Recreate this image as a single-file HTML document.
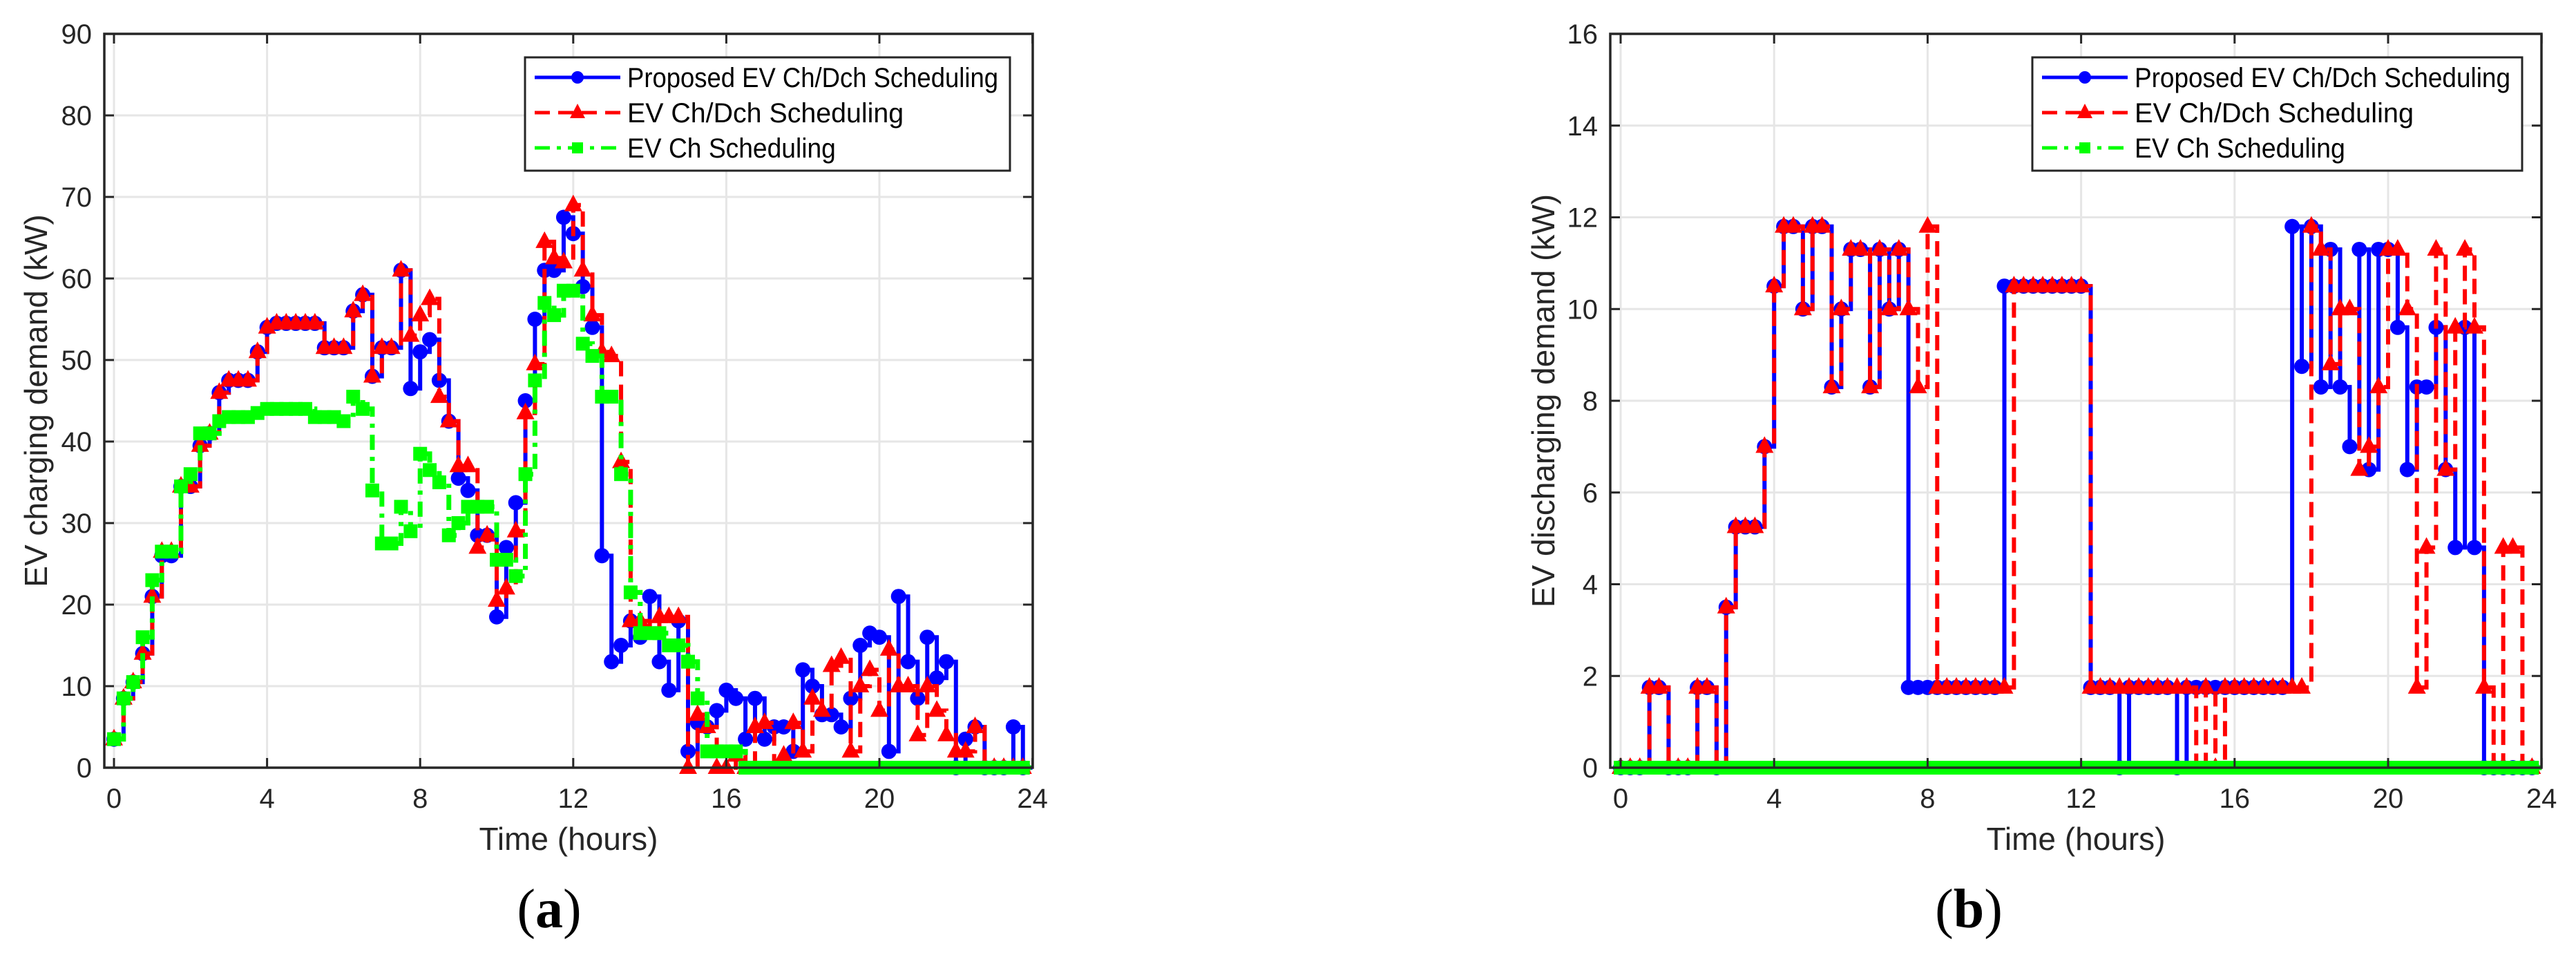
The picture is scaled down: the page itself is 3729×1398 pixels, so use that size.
<!DOCTYPE html>
<html><head><meta charset="utf-8"><style>
html,body{margin:0;padding:0;background:#fff;}
svg{display:block;font-family:"Liberation Sans",Arial,sans-serif;}
</style></head><body>
<svg id="fig" width="3729" height="1398" viewBox="0 0 3729 1398" xmlns="http://www.w3.org/2000/svg">
<g id="pa"></g>
<g id="pb"></g>
<text x="795" y="1342" font-family="Liberation Serif,serif" font-size="80" text-anchor="middle">(<tspan font-weight="bold">a</tspan>)</text>
<text x="2850" y="1342" font-family="Liberation Serif,serif" font-size="80" text-anchor="middle">(<tspan font-weight="bold">b</tspan>)</text>
</svg>
<script>
const xTicks=[0,4,8,12,16,20,24];
const yTicksA=[0,10,20,30,40,50,60,70,80,90];
const yTicksB=[0,2,4,6,8,10,12,14,16];
const seriesNames=["Proposed EV Ch/Dch Scheduling","EV Ch/Dch Scheduling","EV Ch Scheduling"];
const chBlue=[3.5,8.5,10.5,14,21,26,26,34.5, 34.5,39.5,41,46,47.5,47.5,47.5,51, 54,54.5,54.5,54.5,54.5,54.5,51.5,51.5, 51.5,56,58,48,51.5,51.5,61,46.5, 51,52.5,47.5,42.5,35.5,34,28.5,28.5, 18.5,27,32.5,45,55,61,61,67.5, 65.5,59,54,26,13,15,18,16, 21,13,9.5,18,2,5.5,5,7, 9.5,8.5,3.5,8.5,3.5,5,5,2, 12,10,6.5,6.5,5,8.5,15,16.5, 16,2,21,13,8.5,16,11,13, 0,3.5,5,0,0,0,5,0];
const chRed=[3.5,8.5,10.5,14,21,26.5,26.5,34.5, 34.5,39.5,41,46,47.5,47.5,47.5,51, 54,54.5,54.5,54.5,54.5,54.5,51.5,51.5, 51.5,56,58,48,51.5,51.5,61,53, 55.5,57.5,45.5,42.5,37,37,27,28.5, 20.5,22,29,43.5,49.5,64.5,62.5,62, 69,61,55.5,51,50.5,37.5,18,18, 16.5,18.5,18.5,18.5,0,6.5,5,0, 0,1.5,0,5,5.5,0,1.5,5.5, 2,8.5,7,12.5,13.5,2,10,12, 7,14.5,10,10,4,10,7,4, 2,2,5,0,0,0,0,0];
const chGreen=[3.5,8.5,10.5,16,23,26.5,26.5,34.5, 36,41,41,42.5,43,43,43,43.5, 44,44,44,44,44,43,43,43, 42.5,45.5,44,34,27.5,27.5,32,29, 38.5,36.5,35,28.5,30,32,32,32, 25.5,25.5,23.5,36,47.5,57,55.5,58.5, 58.5,52,50.5,45.5,45.5,36,21.5,16.5, 16.5,16.5,15,15,13,8.5,2,2, 2,2,0,0,0,0,0,0, 0,0,0,0,0,0,0,0, 0,0,0,0,0,0,0,0, 0,0,0,0,0,0,0,0];
const dchBlue=[0,0,0,1.75,1.75,0,0,0, 1.75,1.75,0,3.5,5.25,5.25,5.25,7, 10.5,11.8,11.8,10,11.8,11.8,8.3,10, 11.3,11.3,8.3,11.3,10,11.3,1.75,1.75, 1.75,1.75,1.75,1.75,1.75,1.75,1.75,1.75, 10.5,10.5,10.5,10.5,10.5,10.5,10.5,10.5, 10.5,1.75,1.75,1.75,0,1.75,1.75,1.75, 1.75,1.75,0,1.75,1.75,1.75,1.75,1.75, 1.75,1.75,1.75,1.75,1.75,1.75,11.8,8.75, 11.8,8.3,11.3,8.3,7,11.3,6.5,11.3, 11.3,9.6,6.5,8.3,8.3,9.6,6.5,4.8, 9.6,4.8,0,0,0,0,0,0];
const dchRed=[0,0,0,1.75,1.75,0,0,0, 1.75,1.75,0,3.5,5.25,5.25,5.25,7, 10.5,11.8,11.8,10,11.8,11.8,8.3,10, 11.3,11.3,8.3,11.3,10,11.3,10,8.3, 11.8,1.75,1.75,1.75,1.75,1.75,1.75,1.75, 1.75,10.5,10.5,10.5,10.5,10.5,10.5,10.5, 10.5,1.75,1.75,1.75,1.75,1.75,1.75,1.75, 1.75,1.75,1.75,1.75,0,1.75,0,1.75, 1.75,1.75,1.75,1.75,1.75,1.75,1.75,1.75, 11.8,11.3,8.8,10,10,6.5,7,8.3, 11.3,11.3,10,1.75,4.8,11.3,6.5,9.6, 11.3,9.6,1.75,0,4.8,4.8,0,0];
const dchGreen=new Array(96).fill(0);
const NS="http://www.w3.org/2000/svg";
function mk(p,tag,attrs){const e=document.createElementNS(NS,tag);for(const k in attrs)e.setAttribute(k,attrs[k]);p.appendChild(e);return e;}
function panel(g,o){
  const X=t=>o.x0+t*o.px;
  const Y=v=>o.yb-(v/o.ymax)*(o.yb-o.yt);
  const grid=mk(g,'g',{});
  
  
  xTicks.forEach(t=>{mk(grid,'line',{x1:X(t),x2:X(t),y1:o.yt,y2:o.yb,stroke:'#e6e6e6','stroke-width':3});});
  o.yt_.forEach(v=>{mk(grid,'line',{x1:o.xl,x2:o.xr,y1:Y(v),y2:Y(v),stroke:'#e6e6e6','stroke-width':3});});
  const cols=['#0000ff','#ff0000','#00ff00'];
  const dashes=['none','22 12','22 10 6 10'];
  const names=['series-proposed','series-ch-dch','series-ch-only'];
  [0,1,2].forEach(i=>{
    const d=o.s[i];
    const sg=mk(g,'g',{});
    
    
    let p='';
    d.forEach((v,k)=>{const t=k*0.25;p+=(k===0?'M':'L')+X(t)+' '+Y(v)+' L'+X(t+0.25)+' '+Y(v)+' ';});
    mk(sg,'path',{d:p,fill:'none',stroke:cols[i],'stroke-width':i===2?7:6,'stroke-dasharray':dashes[i]});
    d.forEach((v,k)=>{
      const cx=X(k*0.25),cy=Y(v);let m;
      if(i===0)m=mk(sg,'circle',{cx:cx,cy:cy,r:11,fill:cols[0]});
      else if(i===1)m=mk(sg,'polygon',{points:`${cx},${cy-15} ${cx-13},${cy+9} ${cx+13},${cy+9}`,fill:cols[1]});
      else m=mk(sg,'rect',{x:cx-10,y:cy-10,width:20,height:20,fill:cols[2]});
      
      
    });
  });
  const ax=mk(g,'g',{});
  
  
  mk(ax,'rect',{x:o.xl,y:o.yt,width:o.xr-o.xl,height:o.yb-o.yt,fill:'none',stroke:'#262626','stroke-width':3.5});
  xTicks.forEach(t=>{
    mk(ax,'line',{x1:X(t),x2:X(t),y1:o.yb,y2:o.yb-14,stroke:'#262626','stroke-width':3});
    mk(ax,'line',{x1:X(t),x2:X(t),y1:o.yt,y2:o.yt+14,stroke:'#262626','stroke-width':3});
    const tx=mk(ax,'text',{x:X(t),y:o.yb+58,'font-size':40,'text-anchor':'middle',fill:'#262626'});
    tx.textContent=t;
    
    
  });
  o.yt_.forEach(v=>{
    mk(ax,'line',{x1:o.xl,x2:o.xl+14,y1:Y(v),y2:Y(v),stroke:'#262626','stroke-width':3});
    mk(ax,'line',{x1:o.xr,x2:o.xr-14,y1:Y(v),y2:Y(v),stroke:'#262626','stroke-width':3});
    const tx=mk(ax,'text',{x:o.xl-18,y:Y(v)+14,'font-size':40,'text-anchor':'end',fill:'#262626'});
    tx.textContent=v;
    
    
  });
  const xt=mk(ax,'text',{x:(o.xl+o.xr)/2,y:1230,'font-size':46,'text-anchor':'middle',fill:'#262626'});
  xt.textContent='Time (hours)';
  
  
  const cy=(o.yt+o.yb)/2;
  const yt=mk(ax,'text',{x:o.ylx,y:cy,'font-size':46,'text-anchor':'middle',fill:'#262626',transform:`rotate(-90 ${o.ylx} ${cy})`});
  yt.textContent=o.ylab;
  
  
  const lg=mk(g,'g',{});
  
  
  mk(lg,'rect',{x:o.lx,y:83,width:o.lw,height:164,fill:'#fff',stroke:'#262626','stroke-width':3});
  const tl=[o.lw-165,o.lw*0.57,o.lw*0.43];
  [112,163,214].forEach((ly,i)=>{
    const e=mk(lg,'g',{});
    
    
    const l0=o.lx+14,l1=o.lx+138,mx=(l0+l1)/2;
    mk(e,'line',{x1:l0,x2:l1,y1:ly,y2:ly,stroke:cols[i],'stroke-width':5,'stroke-dasharray':dashes[i]});
    if(i===0)mk(e,'circle',{cx:mx,cy:ly,r:9,fill:cols[0]});
    else if(i===1)mk(e,'polygon',{points:`${mx},${ly-13} ${mx-11},${ly+8} ${mx+11},${ly+8}`,fill:cols[1]});
    else mk(e,'rect',{x:mx-8,y:ly-8,width:16,height:16,fill:cols[2]});
    const t=mk(e,'text',{x:o.lx+148,y:ly+14,'font-size':40,fill:'#000',textLength:tl[i],lengthAdjust:'spacingAndGlyphs'});
    t.textContent=seriesNames[i];
  });
}
panel(document.getElementById('pa'),{x0:165,px:55.4,xl:151,xr:1495,yt:49,yb:1111,ymax:90,yt_:yTicksA,s:[chBlue,chRed,chGreen],ylab:'EV charging demand (kW)',ylx:68,lx:760,lw:702});
panel(document.getElementById('pb'),{x0:2346,px:55.55,xl:2331,xr:3679,yt:49,yb:1111,ymax:16,yt_:yTicksB,s:[dchBlue,dchRed,dchGreen],ylab:'EV discharging demand (kW)',ylx:2250,lx:2942,lw:709});
</script>
</body></html>
